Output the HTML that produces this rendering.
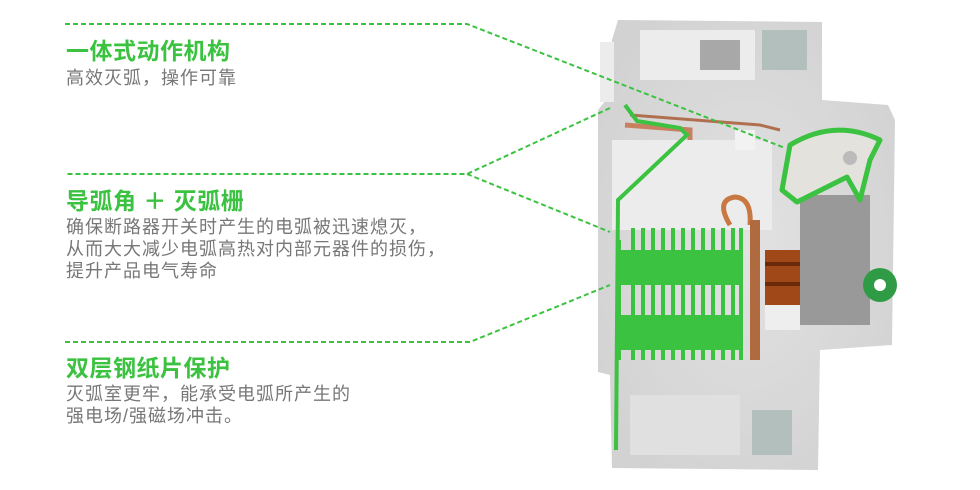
<!DOCTYPE html>
<html><head><meta charset="utf-8"><style>
body{margin:0;width:980px;height:490px;background:#fff;overflow:hidden;position:relative;font-family:"Liberation Sans","Noto Sans CJK SC",sans-serif}
.t{position:absolute;left:66px;color:#3bc240;font-weight:bold;font-size:23px;letter-spacing:0.5px;line-height:26px;white-space:nowrap}
.d{position:absolute;left:66px;color:#777;font-size:18px;line-height:22px;white-space:nowrap;letter-spacing:1px}
svg{position:absolute;left:0;top:0}
</style></head><body>
<svg width="980" height="490" viewBox="0 0 980 490">
<defs><radialGradient id="g" cx="0.5" cy="0.5" r="0.6"><stop offset="0" stop-color="#e2e2e2"/><stop offset="1" stop-color="#d2d2d2"/></radialGradient></defs>
<path d="M612 40 L618 20 L822 22 L822 100 L888 105 L895 120 L892 345 L820 350 L818 470 L612 468 L610 375 L598 372 L598 110 L606 100 Z" fill="url(#g)"/>
<rect x="600" y="42" width="14" height="60" fill="#ececec"/>
<rect x="640" y="30" width="115" height="50" fill="#ececec"/>
<rect x="700" y="40" width="40" height="30" fill="#a8a8a8"/>
<rect x="762" y="30" width="45" height="40" fill="#b3bfbd"/>
<rect x="752" y="410" width="40" height="45" fill="#b3bfbd"/>
<rect x="630" y="395" width="110" height="60" fill="#e0e0e0"/>
<rect x="612" y="140" width="160" height="90" fill="#ececec"/>
<path d="M625 125 L690 130 L690 140" stroke="#c88060" stroke-width="5" fill="none"/>
<path d="M630 115 L760 125 L780 130" stroke="#b07050" stroke-width="3" fill="none"/>
<path d="M730 225 Q715 200 735 197 Q752 198 750 225" stroke="#c87840" stroke-width="5" fill="none"/>
<rect x="765" y="250" width="45" height="55" fill="#a04818"/>
<rect x="765" y="262" width="45" height="4" fill="#6a2a0a"/>
<rect x="765" y="282" width="45" height="4" fill="#6a2a0a"/>
<rect x="765" y="305" width="35" height="25" fill="#eee"/>
<rect x="750" y="220" width="10" height="140" fill="#b06a40"/>
<rect x="800" y="195" width="70" height="130" fill="#999"/>
<rect x="735" y="130" width="20" height="20" fill="#f2f2f2"/>
<polyline points="625,105 637,121 680,128 687,135 618,200 616,450" stroke="#3bc240" stroke-width="4" fill="none"/>
<path d="M782 190 L790 145 Q835 118 880 140 L870 160 L860 200 L847 177 L797 202 Z" fill="#e4e2dc" stroke="#3bc240" stroke-width="5" stroke-linejoin="round"/>
<circle cx="850" cy="158" r="7" fill="#bbb"/>
<circle cx="880" cy="285" r="17" fill="#2f9c45"/>
<circle cx="880" cy="285" r="6" fill="#fff"/>
<rect x="616" y="250" width="127" height="35" fill="#3bc240"/>
<rect x="616" y="315" width="127" height="35" fill="#3bc240"/>
<g fill="#3bc240">
<rect x="631" y="228" width="4" height="132"/><rect x="641" y="228" width="4" height="132"/><rect x="651" y="228" width="4" height="132"/><rect x="661" y="228" width="4" height="132"/><rect x="671" y="228" width="4" height="132"/><rect x="681" y="228" width="4" height="132"/><rect x="691" y="228" width="4" height="132"/><rect x="701" y="228" width="4" height="132"/><rect x="711" y="228" width="4" height="132"/><rect x="721" y="228" width="4" height="132"/><rect x="731" y="228" width="4" height="132"/><rect x="739" y="228" width="4" height="132"/>
<rect x="616" y="240" width="5" height="120"/>
</g>
<g stroke="#3bc240" stroke-width="2" stroke-dasharray="5,3" fill="none">
<polyline points="65,24 467,24 785,148"/>
<polyline points="610,108 467,174 65,174"/>
<polyline points="467,174 610,232"/>
<polyline points="65,342 470,342 610,285"/>
</g>
</svg>
<div class="t" style="top:38px">一体式动作机构</div>
<div class="d" style="top:67px">高效灭弧，操作可靠</div>
<div class="t" style="top:188px">导弧角 ＋ 灭弧栅</div>
<div class="d" style="top:216px">确保断路器开关时产生的电弧被迅速熄灭，<br>从而大大减少电弧高热对内部元器件的损伤，<br>提升产品电气寿命</div>
<div class="t" style="top:355px">双层钢纸片保护</div>
<div class="d" style="top:383px">灭弧室更牢，能承受电弧所产生的<br>强电场/强磁场冲击。</div>
</body></html>
